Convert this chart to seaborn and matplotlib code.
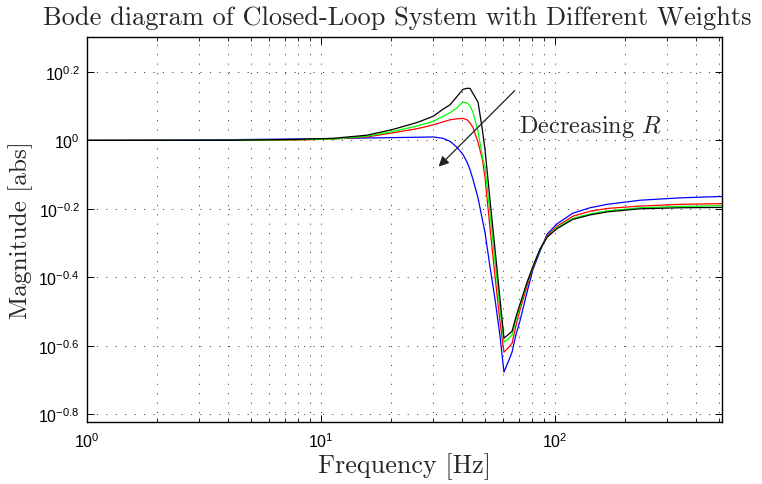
import numpy as np
import pandas as pd
import matplotlib
matplotlib.use("Agg")
import matplotlib.pyplot as plt
import seaborn as sns
from matplotlib.ticker import FixedLocator, FuncFormatter, LogLocator, NullFormatter, NullLocator

# ---- data ----
freq_hz = [1, 2, 4, 8, 11.3, 15.7, 20.3, 25.7, 30.1, 33.2, 35.6, 38.1, 40.4, 42.1, 43.3,
           44.6, 46.9, 48.9, 50.2, 52.7, 55.4, 58.2, 60.5, 63, 65.5, 68, 70.8, 75.9, 80.5,
           86.3, 92.5, 102, 119, 141, 167, 231, 342, 517]

# magnitudes as log10(|G|) exponents (axis is labelled 10^x)
mag_exp_black = [0, 0, 0, 0.003, 0.006, 0.015, 0.032, 0.052, 0.070, 0.091, 0.104, 0.128, 0.149,
                 0.152, 0.152, 0.137, 0.111, 0.032, -0.026, -0.172, -0.318, -0.464, -0.578,
                 -0.568, -0.558, -0.517, -0.479, -0.415, -0.368, -0.318, -0.283, -0.258,
                 -0.231, -0.218, -0.209, -0.200, -0.197, -0.196]
mag_exp_green = [0, 0, 0, 0.002, 0.004, 0.012, 0.026, 0.042, 0.055, 0.070, 0.081, 0.095, 0.112,
                 0.109, 0.101, 0.082, 0.026, -0.047, -0.079, -0.210, -0.353, -0.493, -0.590,
                 -0.581, -0.569, -0.526, -0.485, -0.418, -0.369, -0.318, -0.282, -0.255,
                 -0.228, -0.215, -0.206, -0.197, -0.193, -0.191]
mag_exp_red = [0, 0, 0, 0.001, 0.004, 0.010, 0.022, 0.034, 0.045, 0.054, 0.060, 0.063, 0.064,
               0.060, 0.051, 0.038, -0.006, -0.055, -0.108, -0.254, -0.397, -0.531, -0.619,
               -0.607, -0.593, -0.543, -0.496, -0.426, -0.372, -0.318, -0.279, -0.251,
               -0.222, -0.207, -0.199, -0.192, -0.187, -0.185]
mag_exp_blue = [0, 0.001, 0.002, 0.004, 0.005, 0.007, 0.008, 0.009, 0.010, 0.006, -0.003, -0.020,
                -0.041, -0.064, -0.085, -0.114, -0.169, -0.231, -0.269, -0.368, -0.464, -0.572,
                -0.677, -0.648, -0.619, -0.569, -0.528, -0.444, -0.377, -0.324, -0.274, -0.244,
                -0.213, -0.197, -0.187, -0.175, -0.168, -0.164]

curve_names = ["blue", "red", "green", "black"]
curve_colors = {"blue": "#0000ff", "red": "#ff0000", "green": "#00ff00", "black": "#000000"}

ytick_exps = [-0.8, -0.6, -0.4, -0.2, 0, 0.2]
xtick_exps = [0, 1, 2]

title_text = "Bode diagram of Closed-Loop System with Different Weights"
xlabel_text = "Frequency [Hz]"
ylabel_text = "Magnitude [abs]"
annot_text = "Decreasing $R$"

# ---- build table ----
series = {"black": mag_exp_black, "green": mag_exp_green, "red": mag_exp_red, "blue": mag_exp_blue}
frames = []
for name in curve_names:
    frames.append(pd.DataFrame({"freq": freq_hz,
                                "mag": 10 ** np.array(series[name]),
                                "curve": name}))
df = pd.concat(frames, ignore_index=True)

# ---- style ----
sns.set_style("ticks")
plt.rcParams.update({
    "font.family": ["Liberation Sans", "DejaVu Sans"],
    "mathtext.fontset": "custom",
    "mathtext.rm": "Liberation Sans",
    "mathtext.it": "Liberation Sans:italic",
    "mathtext.bf": "Liberation Sans:bold",
    "axes.edgecolor": "black",
    "axes.linewidth": 1.0,
})

fig = plt.figure(figsize=(7.62, 4.85), dpi=100)
ax = fig.add_axes([87 / 762, 1 - 423 / 485, (722 - 87) / 762, (423 - 38) / 485])

sns.lineplot(data=df, x="freq", y="mag", hue="curve", hue_order=curve_names,
             palette=curve_colors, estimator=None, sort=False, legend=False,
             linewidth=0.9, ax=ax)

ax.set_xscale("log")
ax.set_yscale("log")
ax.set_xlim(1, 517)
ax.set_ylim(10 ** -0.823, 10 ** 0.302)

# ticks
ax.xaxis.set_major_locator(FixedLocator([10.0 ** e for e in xtick_exps]))
ax.xaxis.set_major_formatter(FuncFormatter(lambda v, p: "$10^{%d}$" % int(round(np.log10(v)))))
ax.xaxis.set_minor_locator(LogLocator(base=10, subs=np.arange(2, 10), numticks=20))
ax.xaxis.set_minor_formatter(NullFormatter())

ax.yaxis.set_major_locator(FixedLocator([10.0 ** e for e in ytick_exps]))
ax.yaxis.set_major_formatter(FuncFormatter(
    lambda v, p: "$10^{%s}$" % ("%g" % round(np.log10(v), 1)).replace("-0.0", "0")))
ax.yaxis.set_minor_locator(NullLocator())
ax.yaxis.set_minor_formatter(NullFormatter())

ax.tick_params(which="both", direction="in", top=True, right=True, colors="black",
               labelsize=11.5)
ax.tick_params(which="major", length=5, width=0.7)
ax.tick_params(which="minor", length=3, width=0.6)
ax.tick_params(axis="x", pad=7)
ax.tick_params(axis="y", pad=5)

# dotted grid (major both, minor x)
grid_kw = dict(color="#222222", linewidth=0.6, linestyle=(0, (1.3, 10)))
ax.grid(True, which="major", axis="both", **grid_kw)
ax.grid(True, which="minor", axis="x", **grid_kw)

for s in ax.spines.values():
    s.set_visible(True)
    s.set_color("black")
    s.set_linewidth(1.0)

fig.text(397 / 762, 1 - 18 / 485, title_text, fontfamily="cmr10", fontsize=19,
         ha="center", va="center")
ax.set_xlabel(xlabel_text, fontfamily="cmr10", fontsize=18.8, labelpad=1)
ax.set_ylabel(ylabel_text, fontfamily="cmr10", fontsize=18.2, labelpad=4)

ax.annotate("", xy=(31.2, 0.827), xytext=(68.6, 1.416),
            arrowprops=dict(arrowstyle="-|>", color="#222222", lw=0.9, mutation_scale=15))
ax.text(70.2, 1.099, annot_text, fontfamily="cmr10", math_fontfamily="cm", fontsize=17.5,
        va="center", ha="left")

fig.savefig("out.png", dpi=100)
